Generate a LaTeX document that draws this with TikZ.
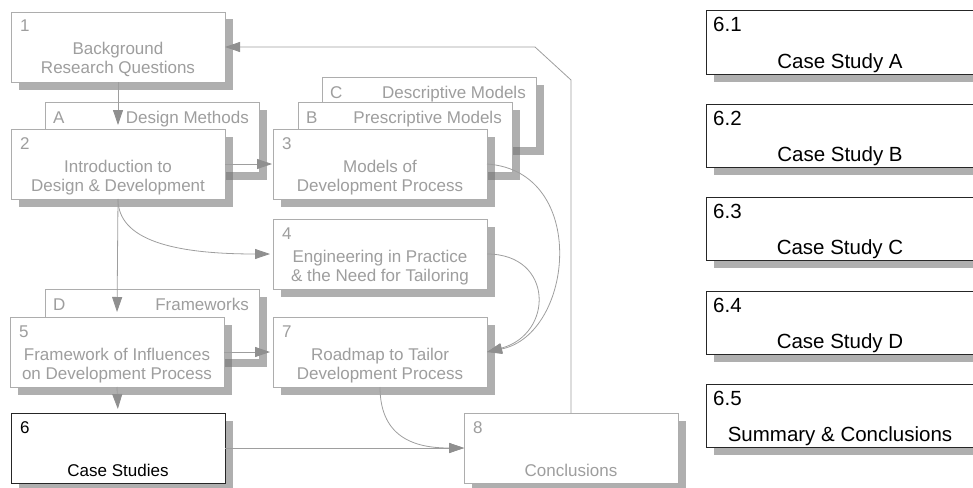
\documentclass[tikz,border=0pt]{standalone}
\usepackage{fontspec}
\setmainfont{Liberation Sans}
\usetikzlibrary{arrows.meta,shadows}

\definecolor{inkgray}{gray}{0.62}
\definecolor{edgegray}{gray}{0.68}
\definecolor{wiregray}{gray}{0.62}
\definecolor{tipgray}{gray}{0.56}
\definecolor{shadegray}{gray}{0.43}
\definecolor{darkedge}{gray}{0.15}

\tikzset{
  boxshade/.style={drop shadow={shadow xshift=8pt, shadow yshift=-7.5pt, fill=shadegray, opacity=0.55}},
  chap/.style={minimum width=214pt, minimum height=70pt},
  side/.style={minimum width=268pt, minimum height=63pt},
  gbox/.style={draw=edgegray, fill=white, line width=0.9pt, anchor=north west,
               inner sep=0pt, outer sep=0pt, boxshade, chap},
  kbox/.style={draw=darkedge, fill=white, line width=1pt, anchor=north west,
               inner sep=0pt, outer sep=0pt, boxshade},
  glab/.style={text=inkgray, font=\fontsize{17}{20}\selectfont, inner sep=0pt},
  klab/.style={text=black, font=\fontsize{17}{20}\selectfont, inner sep=0pt},
  rlab/.style={text=black, font=\fontsize{20.5}{24}\selectfont, inner sep=0pt},
  wire/.style={draw=wiregray, line width=0.8pt},
  arr/.style={wire, -{Triangle[length=15pt, width=10pt, color=tipgray]}},
}

% gray chapter box with number and a two-line title
\newcommand\twoline[6]{%
  \node[gbox] (#1) at (#2,#3) {};
  \node[glab, anchor=base west] (#1-num) at ([shift={(9,20)}]#1.north west) {#4};
  \node[glab, anchor=base] (#1-l1) at ([shift={(0,43)}]#1.north) {#5};
  \node[glab, anchor=base] (#1-l2) at ([shift={(0,62)}]#1.north) {#6};
}
% appendix tab box: letter on the left, title on the right
\newcommand\tabbox[5]{%
  \node[gbox] (#1) at (#2,#3) {};
  \node[glab, anchor=base west] (#1-let) at ([shift={(8,21)}]#1.north west) {#4};
  \node[glab, anchor=base east] (#1-ttl) at ([shift={(-10,21)}]#1.north east) {#5};
}
% case study box on the right
\newcommand\casebox[4]{%
  \node[kbox, side] (#1) at (706,#2) {};
  \node[rlab, anchor=base west] (#1-num) at ([shift={(7,21)}]#1.north west) {#3};
  \node[rlab, anchor=base] (#1-ttl) at (840,#2+57) {#4};
}

\begin{document}
\begin{tikzpicture}[x=1pt,y=-1pt]
\useasboundingbox (0,0) rectangle (973,487);

% chapter 1
\twoline{b1}{11}{12}{1}{Background}{Research Questions}

% chapter 3 with its stacked appendices
\tabbox{bC}{322}{77}{C}{Descriptive Models}
\tabbox{bB}{298}{102}{B}{Prescriptive Models}
\twoline{b3}{273}{129}{3}{Models of}{Development Process}

% chapter 2 with appendix A
\tabbox{bA}{45}{102}{A}{Design Methods}
\twoline{b2}{11}{129}{2}{Introduction to}{Design \& Development}

% chapter 4
\twoline{b4}{273}{219}{4}{Engineering in Practice}{\& the Need for Tailoring}

% chapter 5 with appendix D
\tabbox{bD}{45}{289}{D}{Frameworks}
\twoline{b5}{10}{317}{5}{Framework of Influences}{on Development Process}

% chapter 7
\twoline{b7}{273}{317}{7}{Roadmap to Tailor}{Development Process}

% chapter 6
\node[kbox, chap] (b6) at (11,413) {};
\node[klab, anchor=base west] (b6-num) at ([shift={(9,20)}]b6.north west) {6};
\node[klab, anchor=base] (b6-ttl) at ([shift={(0,63)}]b6.north) {Case Studies};

% chapter 8
\node[gbox] (b8) at (464,413) {};
\node[glab, anchor=base west] (b8-num) at ([shift={(9,20)}]b8.north west) {8};
\node[glab, anchor=base] (b8-ttl) at ([shift={(0,63)}]b8.north) {Conclusions};

% case studies of chapter 6
\casebox{s1}{11}{6.1}{Case Study A}
\casebox{s2}{104}{6.2}{Case Study B}
\casebox{s3}{197}{6.3}{Case Study C}
\casebox{s4}{291}{6.4}{Case Study D}
\casebox{s5}{384}{6.5}{Summary \& Conclusions}

% connectors
\draw[arr, shorten >=4pt] (b1.south) -- (b2.north);
\draw[arr, shorten >=1pt] (b2.east) -- (b3.west);
\draw[arr, shorten >=5pt] (b2.south) -- (b5.north);
\draw[arr, shorten >=3pt] (b2.south) .. controls +(0,41) and +(-100,0) .. (b4.west);
\draw[arr] (b3.east) .. controls +(102,7) and +(87,-18) .. (b7.east);
\draw[arr] (b4.east) .. controls +(67,0) and +(67,-18) .. (b7.east);
\draw[arr, shorten >=3pt] (b5.east) -- (b7.west);
\draw[arr, shorten >=4pt] (b5.south) -- (b6.north);
\draw[arr] (b6.east) -- (b8.west);
\draw[arr] (b7.south) .. controls +(0,54) and +(-44,0) .. (b8.west);
\coordinate (k1) at (571,80);
\coordinate (k2) at (535,47);
\draw[arr] (b8.north) -- (k1) -- (k2) -- (b1.east);
\end{tikzpicture}
\end{document}
